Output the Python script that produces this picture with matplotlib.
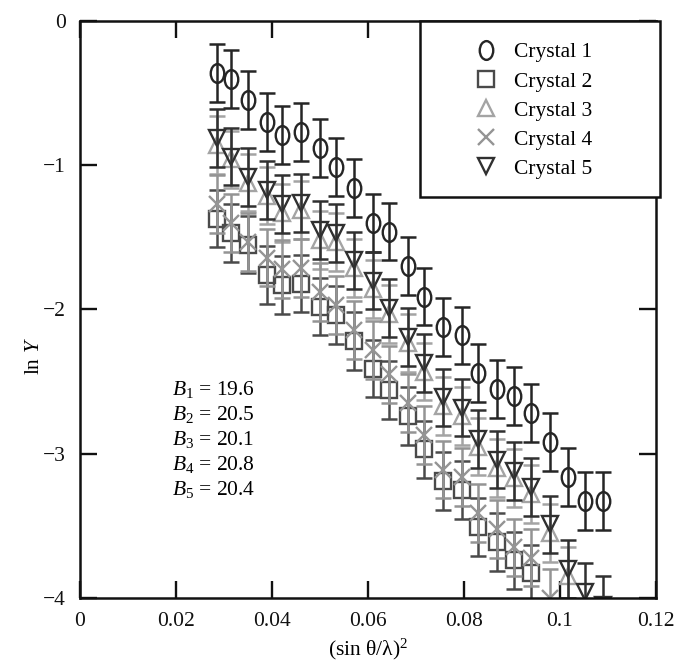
import numpy as np
import matplotlib
matplotlib.use("Agg")
import matplotlib.pyplot as plt
from matplotlib.path import Path
from matplotlib.patches import Rectangle

# ---------- data ----------
x = [0.0285, 0.0315, 0.035, 0.039, 0.042, 0.046, 0.050, 0.0533, 0.057, 0.061,
     0.0644, 0.0683, 0.0717, 0.0756, 0.0796, 0.083, 0.0869, 0.0904, 0.094,
     0.0979, 0.1017, 0.1052, 0.109]

crystal1 = [-0.36, -0.40, -0.55, -0.70, -0.79, -0.77, -0.88, -1.01, -1.16, -1.40,
            -1.46, -1.70, -1.91, -2.12, -2.18, -2.44, -2.55, -2.60, -2.72, -2.92,
            -3.16, -3.33, -3.33]
crystal2 = [-1.37, -1.47, -1.55, -1.76, -1.83, -1.82, -1.98, -2.04, -2.22, -2.41,
            -2.56, -2.74, -2.97, -3.19, -3.25, -3.51, -3.61, -3.74, -3.83]
crystal3 = [-0.86, -0.96, -1.12, -1.21, -1.33, -1.31, -1.52, -1.53, -1.71, -1.86,
            -2.03, -2.23, -2.43, -2.67, -2.74, -2.95, -3.10, -3.17, -3.28, -3.55,
            -3.85]
crystal4 = [-1.27, -1.40, -1.53, -1.64, -1.72, -1.71, -1.88, -1.97, -2.14, -2.28,
            -2.45, -2.65, -2.87, -3.11, -3.16, -3.41, -3.52, -3.65, -3.72, -4.00]
crystal5 = [-0.81, -0.94, -1.08, -1.17, -1.27, -1.26, -1.45, -1.47, -1.66, -1.80,
            -1.99, -2.19, -2.37, -2.61, -2.68, -2.90, -3.04, -3.12, -3.23, -3.49,
            -3.80, -3.96, -4.05]
err = 0.2

labels = ["Crystal 1", "Crystal 2", "Crystal 3", "Crystal 4", "Crystal 5"]
B_values = [19.6, 20.5, 20.1, 20.8, 20.4]

x_ticks = [0, 0.02, 0.04, 0.06, 0.08, 0.10, 0.12]
x_ticklabels = ["0", "0.02", "0.04", "0.06", "0.08", "0.1", "0.12"]
y_ticks = [0, -1, -2, -3, -4]

# ---------- style ----------
plt.rcParams["font.family"] = "Liberation Serif"
plt.rcParams["mathtext.fontset"] = "custom"
plt.rcParams["mathtext.rm"] = "Liberation Serif"
plt.rcParams["mathtext.it"] = "Liberation Serif:italic"
FS = 15.5

# tall ellipse for the "circle" markers
circ = Path.unit_circle()
ellipse = Path(circ.vertices * [0.72, 1.0], circ.codes)

series = [
    (crystal1, ellipse, 13.5, "#252525"),
    (crystal2, "s", 12, "#4a4a4a"),
    (crystal3, "^", 11.5, "#a4a4a4"),
    (crystal4, "x", 11, "#949494"),
    (crystal5, "v", 11.5, "#303030"),
]

fig = plt.figure(figsize=(6.76, 6.62), dpi=100)
ax = fig.add_axes([0.1183, 0.0967, 0.852, 0.8716])

handles = []
for (yv, mk, ms, col), lab in zip(series, labels):
    xv = x[:len(yv)]
    ax.errorbar(xv, yv, yerr=[err] * len(yv), fmt="none", ecolor=col,
                elinewidth=1.8, capsize=5.5, capthick=1.8)
    ln, = ax.plot(xv, yv, linestyle="none", marker=mk, ms=ms, mfc="none",
                  mec=col, mew=1.7, label=lab)
    handles.append(ln)

ax.set_xlim(0, 0.12)
ax.set_ylim(-4, 0)
ax.set_xticks(x_ticks)
ax.set_xticklabels(x_ticklabels)
ax.set_yticks(y_ticks)
ax.set_yticklabels(["0", "\u22121", "\u22122", "\u22123", "\u22124"])
ax.tick_params(direction="in", length=12.5, width=1.7, labelsize=FS,
               top=True, right=True, pad=10, colors="#111111")
for sp in ax.spines.values():
    sp.set_linewidth(1.8)
    sp.set_color("#111111")

ax.set_xlabel(r"(sin $\mathrm{\theta}$/$\mathrm{\lambda}$)$^2$", fontsize=FS, labelpad=4)
ax.set_ylabel(r"ln $Y$", fontsize=FS)
ax.yaxis.set_label_coords(-0.062, 0.42)

# B values text block
for i, b in enumerate(B_values):
    ax.text(0.16, 0.362 - i * 0.0433, rf"$B_{i+1}$ = {b}", transform=ax.transAxes,
            fontsize=FS, va="center", ha="left")

# legend frame + legend
ax.add_patch(Rectangle((0.590, 0.695), 0.417, 0.305, transform=ax.transAxes,
                       facecolor="white", edgecolor="#111111", linewidth=1.8,
                       clip_on=False, zorder=5))
leg = ax.legend(handles=handles, loc="upper left", bbox_to_anchor=(0.682, 0.963),
                frameon=False, fontsize=FS, borderpad=0, borderaxespad=0,
                handlelength=1.2, handletextpad=0.7, labelspacing=0.42)
leg.set_zorder(6)

fig.savefig("out.png", dpi=100)
